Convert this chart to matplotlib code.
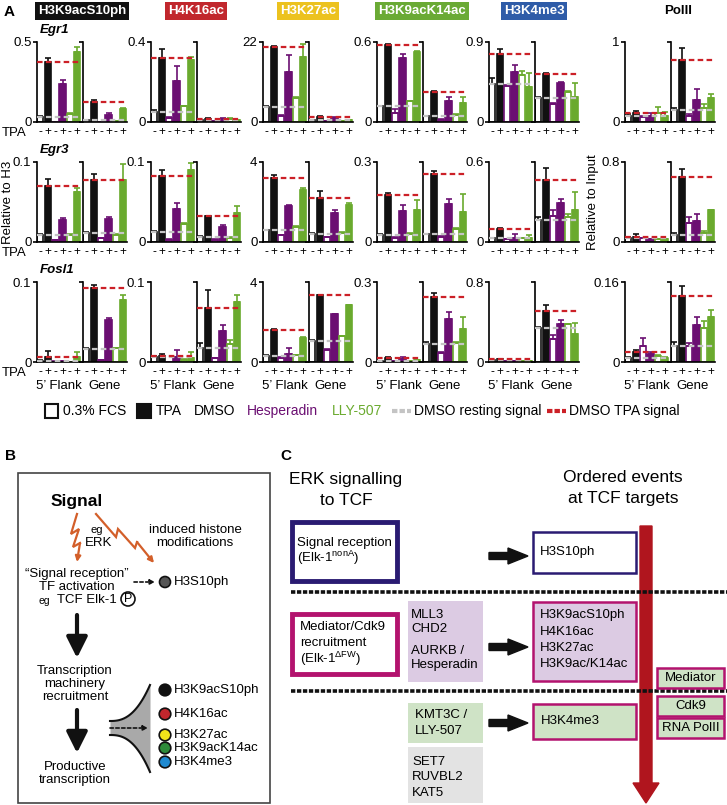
from matplotlib import pyplot as plt
from matplotlib.patches import Rectangle, Circle
import numpy as np

plt.rcParams['font.family'] = ['Liberation Sans', 'DejaVu Sans']
plt.rcParams['mathtext.fontset'] = 'custom'
plt.rcParams['mathtext.rm'] = 'Liberation Sans'

# ---- data (panel A): per mark, [5' flank, gene], bars = FCS, TPA, Hesp -, Hesp +, LLY -, LLY +
marks = ["H3K9acS10ph", "H4K16ac", "H3K27ac", "H3K9acK14ac", "H3K4me3", "PolII"]
genes = ["Egr1", "Egr3", "Fosl1"]
groups = ["5\u2019 Flank", "Gene"]
tpa_labels = ["-", "+", "-", "+", "-", "+"]

egr1_ymax = [0.5, 0.4, 22, 0.6, 0.9, 1]
egr1_mean = [
    [[0.03, 0.372, 0.003, 0.236, 0.05, 0.438], [0.012, 0.125, 0.002, 0.045, 0.005, 0.08]],
    [[0.05, 0.322, 0.02, 0.207, 0.078, 0.312], [0.008, 0.016, 0.003, 0.015, 0.015, 0.008]],
    [[4.1, 20.6, 1.7, 13.8, 6.7, 17.9], [0.5, 1.3, 0.2, 1.1, 0.3, 0.5]],
    [[0.117, 0.575, 0.067, 0.483, 0.154, 0.526], [0.042, 0.228, 0.017, 0.154, 0.055, 0.141]],
    [[0.428, 0.77, 0.409, 0.565, 0.528, 0.39], [0.27, 0.545, 0.205, 0.443, 0.342, 0.286]],
    [[0.08, 0.11, 0.06, 0.07, 0.11, 0.07], [0.15, 0.78, 0.08, 0.277, 0.174, 0.306]],
]
egr1_err = [
    [[0.005, 0.03, 0, 0.024, 0.005, 0.03], [0.003, 0.013, 0, 0.01, 0.003, 0.009]],
    [[0.008, 0.045, 0.003, 0.074, 0.003, 0.013], [0.002, 0.004, 0.001, 0.004, 0.003, 0.002]],
    [[0.3, 0.4, 0.3, 4.7, 0.2, 3.5], [0.1, 0.4, 0.05, 0.3, 0.05, 0.1]],
    [[0.003, 0.01, 0.03, 0.03, 0.003, 0.005], [0.003, 0.006, 0.003, 0.032, 0.003, 0.045]],
    [[0.072, 0.048, 0.01, 0.075, 0.045, 0.157], [0.01, 0.005, 0.005, 0.005, 0.005, 0.149]],
    [[0.02, 0.03, 0.01, 0.04, 0.08, 0.06], [0.02, 0.15, 0.02, 0.14, 0.05, 0.04]],
]

egr3_ymax = [0.1, 0.1, 4, 0.3, 0.6, 0.8]
egr3_mean = [
    [[0.0087, 0.07, 0.002, 0.028, 0.0087, 0.063], [0.011, 0.077, 0.0045, 0.029, 0.0087, 0.077]],
    [[0.013, 0.082, 0.003, 0.041, 0.023, 0.09], [0.006, 0.032, 0.003, 0.019, 0.005, 0.036]],
    [[0.58, 3.2, 0.33, 1.81, 0.76, 2.59], [0.4, 2.2, 0.25, 1.43, 0.46, 1.84]],
    [[0.027, 0.178, 0.016, 0.116, 0.031, 0.12], [0.029, 0.255, 0.019, 0.143, 0.05, 0.113]],
    [[0.028, 0.095, 0.02, 0.032, 0.027, 0.027], [0.165, 0.468, 0.195, 0.295, 0.19, 0.237]],
    [[0.035, 0.045, 0.036, 0.027, 0.027, 0.027], [0.066, 0.645, 0.193, 0.209, 0.086, 0.319]],
]
egr3_err = [
    [[0.001, 0.009, 0.0005, 0.002, 0.001, 0.005], [0.001, 0.008, 0.001, 0.002, 0.001, 0.02]],
    [[0.001, 0.008, 0.001, 0.008, 0.001, 0.009], [0.001, 0.001, 0.001, 0.002, 0.001, 0.009]],
    [[0.03, 0.17, 0.03, 0.03, 0.03, 0.11], [0.03, 0.34, 0.02, 0.17, 0.03, 0.12]],
    [[0.004, 0.006, 0.002, 0.022, 0.002, 0.037], [0.002, 0.01, 0.002, 0.019, 0.003, 0.068]],
    [[0.004, 0.012, 0.003, 0.025, 0.003, 0.025], [0.025, 0.088, 0.045, 0.029, 0.017, 0.136]],
    [[0.015, 0.038, 0.005, 0.005, 0.005, 0.005], [0.027, 0.085, 0.057, 0.066, 0.024, 0.005]],
]

fosl1_ymax = [0.1, 0.1, 4, 0.3, 0.8, 0.16]
fosl1_mean = [
    [[0.0015, 0.0068, 0.001, 0.0013, 0.0005, 0.0063], [0.016, 0.092, 0.002, 0.052, 0.017, 0.078]],
    [[0.006, 0.0076, 0.0005, 0.006, 0.003, 0.0055], [0.018, 0.068, 0.0046, 0.039, 0.022, 0.075]],
    [[0.3, 1.6, 0.2, 0.42, 0.33, 1.22], [1.05, 3.33, 0.62, 2.38, 1.28, 2.83]],
    [[0.004, 0.014, 0.002, 0.01, 0.004, 0.006], [0.066, 0.244, 0.034, 0.16, 0.071, 0.125]],
    [[0.017, 0.025, 0.01, 0.01, 0.007, 0.007], [0.335, 0.515, 0.233, 0.383, 0.377, 0.277]],
    [[0.0075, 0.019, 0.031, 0.015, 0.012, 0.0087], [0.032, 0.133, 0.031, 0.075, 0.067, 0.09]],
]
fosl1_err = [
    [[0.001, 0.007, 0, 0.0005, 0, 0.006], [0.001, 0.004, 0.0005, 0.003, 0.001, 0.006]],
    [[0.002, 0.002, 0, 0.009, 0.001, 0.0075], [0.006, 0.022, 0.001, 0.007, 0.005, 0.009]],
    [[0.05, 0.03, 0.03, 0.3, 0.03, 0.04], [0.05, 0.02, 0.03, 0.04, 0.03, 0.04]],
    [[0.001, 0.004, 0.001, 0.008, 0.001, 0.001], [0.009, 0.015, 0.003, 0.028, 0.003, 0.044]],
    [[0.003, 0.004, 0.002, 0.002, 0.001, 0.001], [0.017, 0.06, 0.033, 0.04, 0.004, 0.116]],
    [[0.002, 0.005, 0.016, 0.005, 0.002, 0.001], [0.008, 0.02, 0.007, 0.015, 0.016, 0.015]],
]

BLK = "#111111"
PUR = "#6b0f72"
GRN = "#6aaa2e"
RED = "#cc2027"
GRY = "#c4c4c4"
ORANGE = "#d35f2a"
mark_colors = ["#111111", "#c1272d", "#ecc21f", "#6aaa35", "#2f5ca8", None]
edge_cols = [BLK, BLK, PUR, PUR, GRN, GRN]
fill_cols = ["white", BLK, "white", PUR, "white", GRN]

W, H = 727, 805
fig = plt.figure(figsize=(W / 100, H / 100), dpi=100)


def px_axes(x, y, w, h):
    return fig.add_axes([x / W, 1 - (y + h) / H, w / W, h / H])


ov = px_axes(0, 0, W, H)
ov.set_xlim(0, W)
ov.set_ylim(H, 0)
ov.axis("off")

col_left = [37, 151, 263, 377, 489, 625]
row_top = [42, 162, 282]
AX_W, AX_H, SUB_OFF = 44, 80, 46

rows = [(egr1_ymax, egr1_mean, egr1_err), (egr3_ymax, egr3_mean, egr3_err),
        (fosl1_ymax, fosl1_mean, fosl1_err)]
x = np.arange(6)
for r, (ymax, mean, err) in enumerate(rows):
    for c in range(6):
        for g in range(2):
            ax = px_axes(col_left[c] + g * SUB_OFF, row_top[r], AX_W, AX_H)
            vals = mean[c][g]
            ax.bar(x, vals, width=0.84, color=fill_cols, edgecolor=edge_cols,
                   linewidth=1.2, zorder=2)
            for i in range(6):
                if err[c][g][i] > 0:
                    ax.errorbar(x[i], vals[i], yerr=[[0], [err[c][g][i]]], fmt="none",
                                ecolor=edge_cols[i], elinewidth=1.2, capsize=2.2,
                                capthick=1.2, zorder=2)
            ax.axhline(vals[0], color=GRY, ls=(0, (2.5, 1.5)), lw=1.6, zorder=3)
            ax.axhline(vals[1], color=RED, ls=(0, (2.5, 1.5)), lw=1.6, zorder=3)
            ax.set_xlim(-0.45, 5.5)
            ax.set_ylim(0, ymax[c])
            ax.set_yticks([0, ymax[c]])
            if g == 0:
                ax.set_yticklabels(["0", f"{ymax[c]:g}"], fontsize=9.5)
            else:
                ax.set_yticklabels([])
            ax.tick_params(axis="y", length=3, width=1.2, pad=1)
            ax.set_xticks(x)
            ax.set_xticklabels(tpa_labels, fontsize=8.5)
            ax.tick_params(axis="x", length=0, pad=3)
            for s in ["top", "right"]:
                ax.spines[s].set_visible(False)
            for s in ["left", "bottom"]:
                ax.spines[s].set_linewidth(1.2)
            ax.patch.set_alpha(0)
            if r == 2:
                ax.set_xlabel(groups[g], fontsize=9.5, labelpad=1)
    ov.text(2, row_top[r] + AX_H + 11, "TPA", fontsize=9.5, va="center")

# headers
for c, m in enumerate(marks):
    cx = col_left[c] + (SUB_OFF + AX_W) / 2
    if mark_colors[c] is None:
        ov.text(cx + 8, 11, m, ha="center", va="center", fontsize=9.5, fontweight="bold")
    else:
        ov.text(cx, 11, m, ha="center", va="center", color="white", fontsize=9.5,
                fontweight="bold",
                bbox=dict(boxstyle="square,pad=0.2", fc=mark_colors[c], ec="none"))
for r, gname in enumerate(genes):
    ov.text(40, row_top[r] - 12, gname, fontsize=9.5, fontstyle="italic",
            fontweight="bold", va="center")
ov.text(8, 202, "Relative to H3", rotation=90, fontsize=9.5, ha="center", va="center")
ov.text(593, 202, "Relative to Input", rotation=90, fontsize=9.5, ha="center", va="center")
ov.text(4, 12, "A", fontsize=11, fontweight="bold", va="center")

# legend
ly = 411
ov.add_patch(Rectangle((45, 404), 13, 14, fc="white", ec=BLK, lw=1.5))
ov.text(63, ly, "0.3% FCS", fontsize=10, va="center")
ov.add_patch(Rectangle((137, 404), 14, 14, fc=BLK, ec=BLK, lw=1.5))
ov.text(156, ly, "TPA", fontsize=10, va="center")
ov.text(194, ly, "DMSO", fontsize=10, va="center")
ov.text(247, ly, "Hesperadin", fontsize=10, va="center", color=PUR)
ov.text(332, ly, "LLY-507", fontsize=10, va="center", color=GRN)
ov.plot([392, 411], [ly, ly], color=GRY, lw=3, ls=(0, (1.3, 0.5)))
ov.text(414, ly, "DMSO resting signal", fontsize=10, va="center")
ov.plot([547, 566], [ly, ly], color=RED, lw=3, ls=(0, (1.3, 0.5)))
ov.text(569, ly, "DMSO TPA signal", fontsize=10, va="center")

# ---- panel B
ov.text(5, 456, "B", fontsize=11, fontweight="bold", va="center")
ov.add_patch(Rectangle((18, 473), 252, 330, fc="none", ec="#444444", lw=1.2))
ov.text(77, 501, "Signal", fontsize=12.5, fontweight="bold", ha="center", va="center")


def bolt(pts):
    xs, ys = zip(*pts)
    ov.plot(xs[:-1], ys[:-1], color=ORANGE, lw=1.6, solid_joinstyle="miter")
    ov.annotate("", xy=pts[-1], xytext=pts[-2],
                arrowprops=dict(arrowstyle="-|>", color=ORANGE, lw=1.6, mutation_scale=8,
                                shrinkA=0, shrinkB=0))


bolt([(77, 514), (71, 534), (79, 529), (73, 547), (80, 543), (77, 562)])
bolt([(96, 514), (116, 537), (118, 529), (135, 548), (137, 542), (154, 563)])
ov.text(97, 530, "eg", fontsize=8, ha="center", va="center")
ov.text(99, 543, "ERK", fontsize=9.5, ha="center", va="center")
ov.text(195, 530, "induced histone", fontsize=9.5, ha="center", va="center")
ov.text(195, 543, "modifications", fontsize=9.5, ha="center", va="center")
ov.text(77, 574, "\u201cSignal reception\u201d", fontsize=9.5, ha="center", va="center")
ov.text(77, 587, "TF activation", fontsize=9.5, ha="center", va="center")
ov.text(44, 601, "eg", fontsize=7.5, ha="center", va="center")
ov.text(87, 600, "TCF Elk-1", fontsize=9.5, ha="center", va="center")
ov.add_patch(Circle((128, 599), 7, fc="white", ec=BLK, lw=1.2))
ov.text(128, 599, "P", fontsize=9, ha="center", va="center")
ov.annotate("", xy=(155, 582), xytext=(134, 582),
            arrowprops=dict(arrowstyle="-|>", color=BLK, lw=1.2, ls=(0, (2, 1.5)),
                            mutation_scale=7, shrinkA=0, shrinkB=0))
ov.add_patch(Circle((165, 582), 5.5, fc="#555555", ec=BLK, lw=1.2))
ov.text(174, 582, "H3S10ph", fontsize=9.5, va="center")

for y0, y1 in [(615, 658), (710, 753)]:
    ov.annotate("", xy=(77, y1), xytext=(77, y0),
                arrowprops=dict(arrowstyle="-|>,head_width=0.45,head_length=0.9", color=BLK,
                                lw=3, mutation_scale=14, shrinkA=0, shrinkB=0))
for i, t in enumerate(["Transcription", "machinery", "recruitment"]):
    ov.text(75, 671 + 13 * i, t, fontsize=9.5, ha="center", va="center")
for i, t in enumerate(["Productive", "transcription"]):
    ov.text(75, 767 + 13 * i, t, fontsize=9.5, ha="center", va="center")

fx = np.linspace(110, 150, 60)
tt = ((fx - 110) / 40) ** 2.5
ftop = 721 - 36 * tt
fbot = 735 + 37 * tt
ov.fill_between(fx, ftop, fbot, color="#a9a9a9", lw=0)
ov.plot(fx, ftop, color=BLK, lw=1.5)
ov.plot(fx, fbot, color=BLK, lw=1.5)
ov.annotate("", xy=(148, 728), xytext=(110, 728),
            arrowprops=dict(arrowstyle="-|>", color=BLK, lw=1.2, ls=(0, (2, 1.5)),
                            mutation_scale=7, shrinkA=0, shrinkB=0))
b_marks = ["H3K9acS10ph", "H4K16ac", "H3K27ac", "H3K9acK14ac", "H3K4me3"]
b_cols = [BLK, "#c1272d", "#f2e41a", "#2e8b3a", "#1f8ad1"]
b_y = [690, 714, 735, 748, 762]
for t, col, yy in zip(b_marks, b_cols, b_y):
    ov.add_patch(Circle((165, yy), 5.8, fc=col, ec=BLK, lw=1.2))
    ov.text(174, yy, t, fontsize=9.5, va="center")

# ---- panel C
NAVY = "#2a1b72"
MAG = "#b3136e"
LAV = "#dccbe3"
LGRN = "#cfe3c6"
LGRY = "#e3e3e3"
ov.text(280, 456, "C", fontsize=11, fontweight="bold", va="center")
ov.text(346, 479, "ERK signalling", fontsize=12.5, ha="center", va="center")
ov.text(346, 500, "to TCF", fontsize=12.5, ha="center", va="center")
ov.text(623, 477, "Ordered events", fontsize=12.5, ha="center", va="center")
ov.text(623, 498, "at TCF targets", fontsize=12.5, ha="center", va="center")

ov.arrow(646, 526, 0, 277, width=12, head_width=26, head_length=20,
         length_includes_head=True, color="#b0151e", zorder=2)
for yy in [592, 691]:
    ov.plot([291, 727], [yy, yy], color=BLK, lw=2.6, ls=(0, (1.2, 0.45)), zorder=3)

ov.add_patch(Rectangle((292, 522), 105, 59, fc="white", ec=NAVY, lw=3.5, zorder=4))
ov.text(297, 543, "Signal reception", fontsize=9.5, va="center", zorder=5)
ov.text(297, 558, "(Elk-1$^{\\mathrm{nonA}}$)", fontsize=9.5, va="center", zorder=5)
ov.add_patch(Rectangle((533, 532), 103, 41, fc="white", ec=NAVY, lw=1.8, zorder=4))
ov.text(540, 552, "H3S10ph", fontsize=9.5, va="center", zorder=5)

ov.add_patch(Rectangle((292, 614), 105, 60, fc="white", ec=MAG, lw=3.5, zorder=4))
for i, t in enumerate(["Mediator/Cdk9", "recruitment", "(Elk-1$^{\\mathrm{\u0394FW}}$)"]):
    ov.text(300, 627 + 16 * i, t, fontsize=9.5, va="center", zorder=5)
ov.add_patch(Rectangle((408, 601), 75, 81, fc=LAV, ec="none", zorder=4))
for t, yy in zip(["MLL3", "CHD2", "AURKB /", "Hesperadin"], [615, 629, 651, 665]):
    ov.text(411, yy, t, fontsize=9.5, va="center", zorder=5)
ov.add_patch(Rectangle((533, 602), 103, 79, fc=LAV, ec=MAG, lw=1.8, zorder=4))
for t, yy in zip(["H3K9acS10ph", "H4K16ac", "H3K27ac", "H3K9ac/K14ac"], [615, 632, 648, 664]):
    ov.text(540, yy, t, fontsize=9.5, va="center", zorder=5)

ov.add_patch(Rectangle((408, 703), 75, 40, fc=LGRN, ec="none", zorder=4))
ov.text(415, 715, "KMT3C /", fontsize=9.5, va="center", zorder=5)
ov.text(415, 731, "LLY-507", fontsize=9.5, va="center", zorder=5)
ov.add_patch(Rectangle((533, 704), 103, 35, fc=LGRN, ec=MAG, lw=1.8, zorder=4))
ov.text(541, 721, "H3K4me3", fontsize=9.5, va="center", zorder=5)
ov.add_patch(Rectangle((408, 747), 75, 56, fc=LGRY, ec="none", zorder=4))
for t, yy in zip(["SET7", "RUVBL2", "KAT5"], [762, 777, 793]):
    ov.text(412, yy, t, fontsize=9.5, va="center", zorder=5)

for t, y0 in zip(["Mediator", "Cdk9", "RNA PolII"], [668, 696, 718]):
    ov.add_patch(Rectangle((657, y0), 67, 20, fc=LGRN, ec=MAG, lw=1.8, zorder=4))
    ov.text(690.5, y0 + 10, t, fontsize=9.5, ha="center", va="center", zorder=5)

for yy in [556, 647, 723]:
    ov.arrow(489, yy, 39, 0, width=7, head_width=16, head_length=20,
             length_includes_head=True, color=BLK, zorder=4)

plt.savefig("out.png", dpi=100)
